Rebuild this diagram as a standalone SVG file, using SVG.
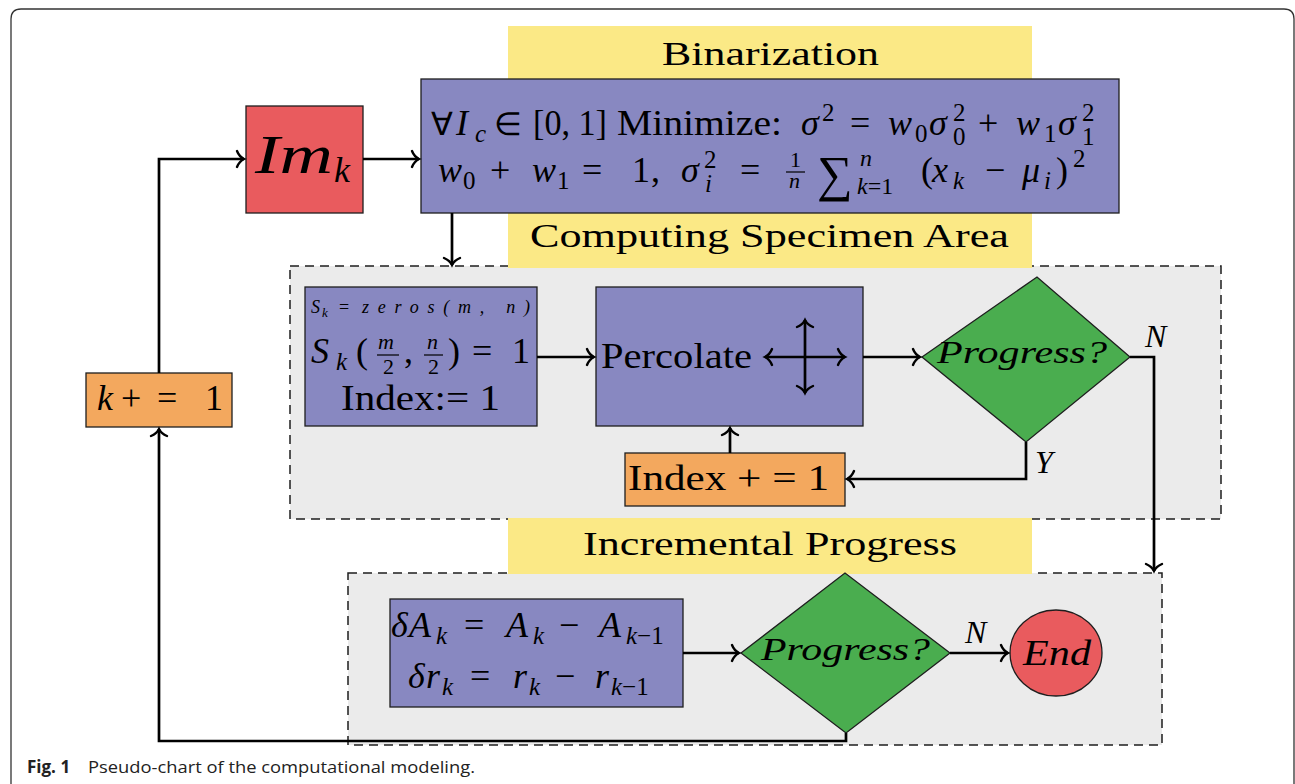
<svg xmlns="http://www.w3.org/2000/svg" width="1295" height="784" viewBox="0 0 1295 784">
<style>
.t{font-family:"Liberation Serif","Times New Roman",serif;fill:#000}
.i{font-style:italic}
.box{stroke:#1e1e1e;stroke-width:1.3}
.blue{fill:#8888c1}
.red{fill:#e95b5e}
.orange{fill:#f3a85e}
.green{fill:#4aad4f}
.yellow{fill:#fbe986}
.dash{fill:#ebebeb;stroke:#1e1e1e;stroke-width:1.5;stroke-dasharray:9 6}
.conn{fill:none;stroke:#000;stroke-width:2.7}
.bar{stroke:#000;stroke-width:1.2}
.cap{font-family:"Open Sans","Noto Sans",sans-serif;fill:#222}
</style>
<defs>
<marker id="ah" markerUnits="userSpaceOnUse" markerWidth="20" markerHeight="20" viewBox="-10 -10 20 20" refX="0" refY="0" orient="auto-start-reverse">
<path d="M-7,-8 C-5,-3 -2,-1 0,0 C-2,1 -5,3 -7,8" fill="none" stroke="#000" stroke-width="2.4" stroke-linecap="round"/>
</marker>
</defs>
<rect width="1295" height="784" fill="#fff"/>
<path d="M11,784 V19 Q11,9 21,9 H1284 Q1294,9 1294,19 V784" fill="none" stroke="#333" stroke-width="1.3"/>

<g id="area-computing"><rect class="dash" x="290" y="266" width="931" height="253"/></g>
<g id="area-incremental"><rect class="dash" x="348" y="573" width="814" height="172"/></g>

<g id="label-binarization">
<rect class="yellow" x="508" y="26" width="524" height="54"/>
<text class="t" x="662" y="65" font-size="34" textLength="217" lengthAdjust="spacingAndGlyphs">Binarization</text>
</g>
<g id="label-computing">
<rect class="yellow" x="508" y="212" width="524" height="56"/>
<text class="t" x="530" y="247" font-size="34" textLength="479" lengthAdjust="spacingAndGlyphs">Computing Specimen Area</text>
</g>
<g id="label-incremental">
<rect class="yellow" x="508" y="518" width="524" height="56"/>
<text class="t" x="583" y="555" font-size="34" textLength="374" lengthAdjust="spacingAndGlyphs">Incremental Progress</text>
</g>

<g id="node-imk">
<rect class="box red" x="246" y="106" width="117" height="107"/>
<text class="t i" font-size="54"><tspan x="255" y="173" textLength="78" lengthAdjust="spacingAndGlyphs">Im</tspan><tspan x="334" y="182" font-size="36">k</tspan></text>
</g>

<g id="node-binarization">
<rect class="box blue" x="421" y="79" width="698" height="134"/>
<text class="t" font-size="36">
<tspan x="431" y="135" font-size="32">∀</tspan><tspan x="456" y="135" class="i">I</tspan><tspan x="475" y="142" font-size="25" class="i">c</tspan><tspan x="494" y="135" font-size="32">∈</tspan><tspan x="533" y="135" textLength="74" lengthAdjust="spacingAndGlyphs">[0, 1]</tspan><tspan x="617" y="135" textLength="165" lengthAdjust="spacingAndGlyphs">Minimize:</tspan><tspan x="801" y="135" class="i">σ</tspan><tspan x="822" y="121" font-size="25">2</tspan><tspan x="850" y="135">=</tspan><tspan x="888" y="135" class="i">w</tspan><tspan x="915" y="142" font-size="25">0</tspan><tspan x="929" y="135" class="i">σ</tspan><tspan x="953" y="121" font-size="25">2</tspan><tspan x="953" y="145" font-size="25">0</tspan><tspan x="978" y="135">+</tspan><tspan x="1016" y="135" class="i">w</tspan><tspan x="1044" y="142" font-size="25">1</tspan><tspan x="1058" y="135" class="i">σ</tspan><tspan x="1082" y="121" font-size="25">2</tspan><tspan x="1082" y="145" font-size="25">1</tspan>
</text>
<text class="t" font-size="36">
<tspan x="438" y="182" class="i">w</tspan><tspan x="463" y="189" font-size="25">0</tspan><tspan x="490" y="182">+</tspan><tspan x="532" y="182" class="i">w</tspan><tspan x="557" y="189" font-size="25">1</tspan><tspan x="582" y="182">=</tspan><tspan x="632" y="182">1</tspan><tspan x="651" y="182">,</tspan><tspan x="681" y="182" class="i">σ</tspan><tspan x="704" y="168" font-size="25">2</tspan><tspan x="705" y="192" font-size="25" class="i">i</tspan><tspan x="740" y="182">=</tspan><tspan x="790" y="167" font-size="22">1</tspan><tspan x="789" y="188" font-size="22" class="i">n</tspan><tspan x="817" y="191" font-size="50">∑</tspan><tspan x="860" y="166" font-size="24" class="i">n</tspan><tspan x="857" y="194" font-size="24" class="i">k</tspan><tspan y="194" font-size="24">=1</tspan><tspan x="921" y="182">(</tspan><tspan x="932" y="182" class="i">x</tspan><tspan x="953" y="189" font-size="25" class="i">k</tspan><tspan x="985" y="182">−</tspan><tspan x="1022" y="182" class="i">μ</tspan><tspan x="1044" y="189" font-size="25" class="i">i</tspan><tspan x="1056" y="182">)</tspan><tspan x="1073" y="167" font-size="25">2</tspan>
</text>
<line class="bar" x1="786" y1="172" x2="805" y2="172"/>
</g>

<g id="node-init">
<rect class="box blue" x="305" y="287" width="232" height="139"/>
<text class="t" font-size="18"><tspan x="311" y="313" class="i">S</tspan><tspan x="322" y="317" font-size="13" class="i">k</tspan><tspan x="339" y="313">=</tspan><tspan x="362" y="313" class="i" textLength="168" lengthAdjust="spacing">zeros(m, n)</tspan></text>
<text class="t" font-size="36"><tspan x="311" y="363" class="i">S</tspan><tspan x="336" y="370" font-size="25" class="i">k</tspan><tspan x="356" y="363">(</tspan><tspan x="378" y="349" font-size="22" class="i">m</tspan><tspan x="383" y="374" font-size="22">2</tspan><tspan x="404" y="363">,</tspan><tspan x="427" y="349" font-size="22" class="i">n</tspan><tspan x="428" y="374" font-size="22">2</tspan><tspan x="448" y="363">)</tspan><tspan x="472" y="363">=</tspan><tspan x="512" y="363">1</tspan></text>
<line class="bar" x1="377" y1="355" x2="399" y2="355"/>
<line class="bar" x1="424" y1="355" x2="443" y2="355"/>
<text class="t" x="341" y="410" font-size="36" textLength="159" lengthAdjust="spacingAndGlyphs">Index:= 1</text>
</g>

<g id="node-percolate">
<rect class="box blue" x="596" y="287" width="267" height="139"/>
<text class="t" x="601" y="368" font-size="35" textLength="151" lengthAdjust="spacingAndGlyphs">Percolate</text>
<path class="conn" d="M765,357 H845" marker-start="url(#ah)" marker-end="url(#ah)"/>
<path class="conn" d="M805,320 V393" marker-start="url(#ah)" marker-end="url(#ah)"/>
</g>

<g id="node-progress1">
<polygon class="box green" points="922,357 1037,277 1130,357 1026,442"/>
<text class="t i" x="937" y="363" font-size="32" textLength="170" lengthAdjust="spacingAndGlyphs">Progress?</text>
</g>

<g id="node-index-inc">
<rect class="box orange" x="625" y="453" width="220" height="53"/>
<text class="t" x="628" y="490" font-size="36" textLength="201" lengthAdjust="spacingAndGlyphs">Index + = 1</text>
</g>

<g id="node-k-inc">
<rect class="box orange" x="86" y="373" width="146" height="54"/>
<text class="t" font-size="36"><tspan x="97" y="410" class="i">k</tspan><tspan x="121" y="410">+</tspan><tspan x="157" y="410">=</tspan><tspan x="205" y="410">1</tspan></text>
</g>

<g id="node-delta">
<rect class="box blue" x="390" y="599" width="293" height="108"/>
<text class="t" font-size="36"><tspan x="391" y="637" class="i">δ</tspan><tspan x="409" y="637" class="i">A</tspan><tspan x="436" y="644" font-size="25" class="i">k</tspan><tspan x="464" y="637">=</tspan><tspan x="506" y="637" class="i">A</tspan><tspan x="533" y="644" font-size="25" class="i">k</tspan><tspan x="559" y="637">−</tspan><tspan x="599" y="637" class="i">A</tspan><tspan x="626" y="644" font-size="25" class="i">k</tspan><tspan y="644" font-size="25">−1</tspan></text>
<text class="t" font-size="36"><tspan x="408" y="688" class="i">δ</tspan><tspan x="426" y="688" class="i">r</tspan><tspan x="442" y="695" font-size="25" class="i">k</tspan><tspan x="470" y="688">=</tspan><tspan x="513" y="688" class="i">r</tspan><tspan x="529" y="695" font-size="25" class="i">k</tspan><tspan x="555" y="688">−</tspan><tspan x="595" y="688" class="i">r</tspan><tspan x="611" y="695" font-size="25" class="i">k</tspan><tspan y="695" font-size="25">−1</tspan></text>
</g>

<g id="node-progress2">
<polygon class="box green" points="741,653 845,573 950,653 846,733"/>
<text class="t i" x="761" y="660" font-size="32" textLength="169" lengthAdjust="spacingAndGlyphs">Progress?</text>
</g>

<g id="node-end">
<ellipse class="box red" cx="1056" cy="653" rx="46" ry="43"/>
<text class="t i" x="1023" y="665" font-size="35" textLength="68" lengthAdjust="spacingAndGlyphs">End</text>
</g>

<g id="connectors">
<path class="conn" d="M363,159 H419" marker-end="url(#ah)"/>
<path class="conn" d="M159,373 V159 H244" marker-end="url(#ah)"/>
<path class="conn" d="M452,213 V265" marker-end="url(#ah)"/>
<path class="conn" d="M537,357 H594" marker-end="url(#ah)"/>
<path class="conn" d="M863,357 H920" marker-end="url(#ah)"/>
<path class="conn" d="M1026,442 V479 H847" marker-end="url(#ah)"/>
<path class="conn" d="M730,453 V428" marker-end="url(#ah)"/>
<path class="conn" d="M1130,357 H1154 V571" marker-end="url(#ah)"/>
<path class="conn" d="M683,653 H739" marker-end="url(#ah)"/>
<path class="conn" d="M950,653 H1008" marker-end="url(#ah)"/>
<path class="conn" d="M846,733 V741 H159 V429" marker-end="url(#ah)"/>
<text class="t i" x="1145" y="347" font-size="32">N</text>
<text class="t i" x="1035" y="473" font-size="32">Y</text>
<text class="t i" x="965" y="643" font-size="32">N</text>
</g>

<g id="caption">
<text class="cap" x="27" y="773" font-size="17" font-weight="bold">Fig. 1</text>
<text class="cap" x="88" y="773" font-size="17" textLength="387" lengthAdjust="spacingAndGlyphs">Pseudo-chart of the computational modeling.</text>
</g>
</svg>
